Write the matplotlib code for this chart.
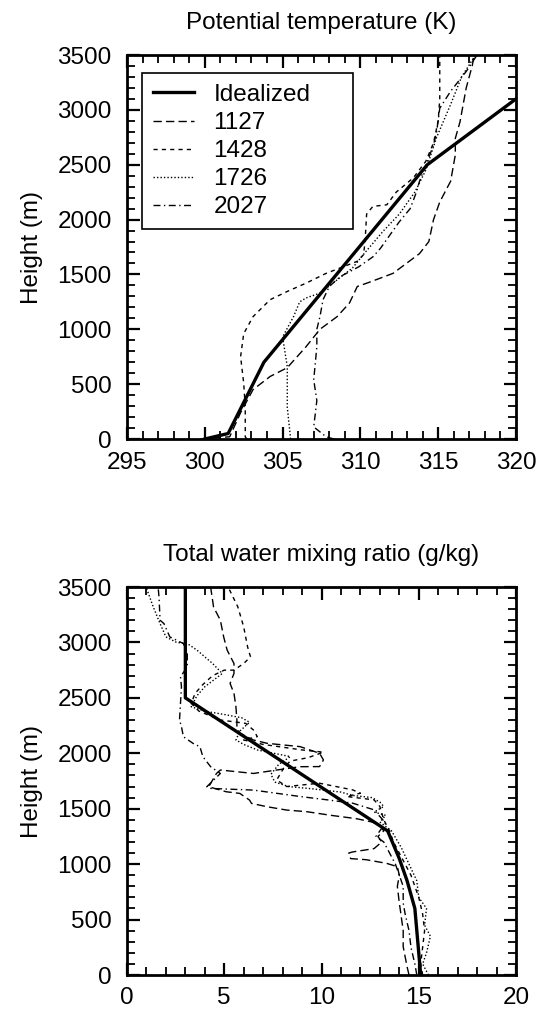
import numpy as np
import matplotlib.pyplot as plt
from matplotlib.ticker import MultipleLocator

plt.rcParams['font.family'] = ['Liberation Sans', 'DejaVu Sans']

# ---- potential temperature (K) vs height (m) ----
th_ideal = [300.0, 301.5, 303.8, 314.3, 320.0, 321.0]
z_ideal = [0, 50, 700, 2500, 3100, 3200]

th_1127 = [299.7, 301.6, 302.3, 303.1, 304.2, 305.3, 306.5, 307.4, 308.5, 309.3, 309.8, 310.6,
           312.1, 313.8, 314.4, 314.7, 315.1, 315.8, 316.1, 316.1, 316.4, 316.8, 317.2, 317.3]
z_1127 = [0, 20, 240, 450, 570, 650, 840, 1000, 1115, 1240, 1390, 1430,
          1510, 1690, 1800, 2000, 2160, 2350, 2590, 2740, 2890, 3200, 3410, 3500]

th_1428 = [302.7, 302.6, 302.6, 302.5, 302.3, 302.5, 303.1, 304.2, 305.3, 306.5, 307.8, 308.9,
           309.8, 310.2, 310.3, 310.4, 310.8, 311.7, 312.3, 313.4, 314.2, 314.7, 315.0, 315.1, 315.1]
z_1428 = [0, 20, 290, 510, 750, 960, 1115, 1270, 1345, 1420, 1510, 1570,
          1620, 1680, 1800, 2050, 2120, 2135, 2250, 2380, 2530, 2700, 2900, 3100, 3500]

th_1726 = [305.5, 305.5, 305.3, 305.3, 305.0, 305.7, 306.1, 306.5, 307.4, 308.5, 309.5, 310.3,
           311.5, 312.5, 313.5, 314.2, 314.9, 315.8, 316.5, 317.4]
z_1726 = [0, 20, 290, 660, 930, 1115, 1250, 1285, 1330, 1450, 1560, 1700,
          1900, 2050, 2250, 2450, 2750, 3050, 3300, 3500]

th_2027 = [308.3, 307.8, 307.0, 307.2, 307.0, 307.2, 307.2, 307.4, 307.6, 308.0, 308.7, 309.9,
           310.8, 311.3, 311.9, 312.5, 313.2, 313.6, 313.8, 314.3, 314.7, 314.9, 315.1, 315.8,
           316.8, 317.5]
z_2027 = [0, 20, 110, 350, 540, 840, 1000, 1115, 1270, 1390, 1480, 1570,
          1660, 1740, 1860, 1980, 2100, 2250, 2350, 2530, 2680, 2800, 3015, 3170,
          3350, 3500]

# ---- total water mixing ratio (g/kg) vs height (m) ----
q_ideal = [15.1, 15.0, 14.8, 14.4, 14.0, 13.4, 3.0, 3.0]
zq_ideal = [0, 200, 600, 850, 1050, 1300, 2500, 3500]

q_1127 = [14.5, 14.4, 14.2, 14.2, 14.05, 14.0, 13.9, 14.0, 13.9, 13.35, 12.3, 11.5, 11.4, 11.6,
          12.7, 13.1, 12.9, 13.2, 13.0, 12.6, 11.8, 10.5, 9.25, 8.2, 7.2, 6.4, 6.3, 5.8, 5.1,
          4.2, 4.4, 4.6, 4.8, 6.5, 7.7, 8.9, 9.9, 10.1, 9.9, 8.9, 7.2, 6.5, 5.8, 5.65, 5.65,
          5.6, 5.5, 5.3, 5.5, 5.5, 5.15, 4.97, 4.8, 4.45, 4.3]
zq_1127 = [0, 75, 255, 400, 590, 650, 800, 900, 977, 1007, 1040, 1050, 1100, 1110,
           1140, 1200, 1250, 1300, 1350, 1380, 1410, 1440, 1473, 1488, 1518, 1548, 1578, 1638, 1653,
           1698, 1758, 1818, 1849, 1818, 1849, 1879, 1880, 1940, 2000, 2060, 2090, 2120, 2180, 2240, 2300,
           2420, 2540, 2630, 2720, 2810, 2930, 3050, 3200, 3320, 3500]

q_1428 = [15.2, 15.1, 15.2, 15.3, 15.2, 15.0, 14.8, 14.6, 14.3, 14.0, 13.7, 13.5, 13.2, 13.0,
          12.7, 11.3, 12.0, 11.6, 9.9, 8.2, 7.7, 7.9, 8.1, 8.4, 9.3, 10.1, 9.0, 7.0, 6.0, 6.7,
          6.5, 6.1, 4.8, 3.7, 3.3, 3.5, 3.9, 4.4, 5.0, 5.5, 6.0, 6.35, 6.2, 6.0, 5.7, 5.2]
zq_1428 = [0, 100, 250, 400, 550, 700, 800, 900, 1000, 1100, 1200, 1300, 1400, 1520,
           1580, 1610, 1640, 1670, 1730, 1700, 1760, 1820, 1880, 1930, 1960, 2010, 2030, 2080, 2120, 2150,
           2210, 2270, 2300, 2380, 2450, 2540, 2620, 2700, 2750, 2750, 2810, 2870, 2960, 3140, 3320, 3500]

q_1726 = [15.5, 15.2, 15.4, 15.6, 15.3, 15.4, 15.0, 14.9, 14.5, 14.1, 13.6, 13.0, 13.3, 12.7,
          13.2, 13.0, 12.6, 11.6, 11.0, 9.5, 8.3, 7.6, 7.4, 7.8, 8.4, 6.7, 6.0, 5.6, 5.8, 6.3,
          5.9, 5.0, 4.0, 3.3, 3.6, 4.0, 4.6, 4.9, 4.4, 3.6, 3.1, 2.55, 2.0, 1.7, 1.35, 1.0]
zq_1726 = [0, 100, 200, 350, 450, 600, 700, 850, 1000, 1150, 1300, 1380, 1440, 1470,
           1520, 1560, 1600, 1620, 1650, 1680, 1700, 1740, 1810, 1900, 1970, 2030, 2080, 2120, 2200, 2280,
           2320, 2350, 2380, 2420, 2520, 2600, 2680, 2720, 2810, 2930, 2990, 3000, 3050, 3170, 3320, 3490]

q_2027 = [14.9, 14.8, 14.6, 14.5, 14.3, 14.2, 14.2, 14.0, 13.8, 13.5, 13.2, 12.8, 13.0, 13.3,
          12.7, 11.6, 10.3, 8.9, 6.5, 4.3, 4.1, 4.8, 4.3, 3.9, 3.75, 3.4, 2.9, 2.8, 2.7, 2.75,
          2.8, 2.75, 3.1, 3.1, 2.9, 2.2, 1.9, 1.7, 1.65, 1.6]
zq_2027 = [0, 100, 250, 400, 550, 650, 800, 900, 1000, 1100, 1200, 1250, 1300, 1370,
           1490, 1550, 1580, 1610, 1668, 1683, 1698, 1818, 1879, 1969, 2059, 2089, 2149, 2240, 2300, 2450,
           2600, 2690, 2780, 2900, 2990, 3050, 3170, 3200, 3400, 3500]

W, H = 538, 1015
fig = plt.figure(figsize=(W / 100, H / 100), dpi=100)
ax1 = fig.add_axes([127 / W, 1 - 439 / H, 389 / W, 384 / H])
ax2 = fig.add_axes([127 / W, 1 - 975 / H, 389 / W, 388 / H])

styles = {
    'ideal': dict(color='black', lw=2.4, ls='-'),
    '1127': dict(color='black', lw=1.0, ls=(0, (6, 3))),
    '1428': dict(color='black', lw=1.0, ls=(0, (3, 3))),
    '1726': dict(color='black', lw=1.0, ls=(0, (1, 1.5))),
    '2027': dict(color='black', lw=1.0, ls=(0, (5, 2.5, 1, 2.5))),
}

ax1.plot(th_ideal, z_ideal, label='Idealized', **styles['ideal'])
ax1.plot(th_1127, z_1127, label='1127', **styles['1127'])
ax1.plot(th_1428, z_1428, label='1428', **styles['1428'])
ax1.plot(th_1726, z_1726, label='1726', **styles['1726'])
ax1.plot(th_2027, z_2027, label='2027', **styles['2027'])

ax2.plot(q_ideal, zq_ideal, **styles['ideal'])
ax2.plot(q_1127, zq_1127, **styles['1127'])
ax2.plot(q_1428, zq_1428, **styles['1428'])
ax2.plot(q_1726, zq_1726, **styles['1726'])
ax2.plot(q_2027, zq_2027, **styles['2027'])

fs = 17.5
for ax, xlim, title in [(ax1, (295, 320), 'Potential temperature (K)'),
                        (ax2, (0, 20), 'Total water mixing ratio (g/kg)')]:
    ax.set_xlim(*xlim)
    ax.set_ylim(0, 3500)
    ax.xaxis.set_major_locator(MultipleLocator(5))
    ax.xaxis.set_minor_locator(MultipleLocator(1))
    ax.yaxis.set_major_locator(MultipleLocator(500))
    ax.yaxis.set_minor_locator(MultipleLocator(100))
    ax.tick_params(which='both', direction='in', top=True, right=True, labelsize=fs)
    ax.tick_params(axis='y', which='major', length=9, width=1.6, pad=11)
    ax.tick_params(axis='x', which='major', length=9, width=1.6, pad=9)
    ax.tick_params(which='minor', length=5.5, width=1.3)
    for s in ax.spines.values():
        s.set_linewidth(2)
    ax.set_title(title, fontsize=fs, pad=19)
    ax.set_ylabel('Height (m)', fontsize=fs, labelpad=10)

leg = ax1.legend(loc='upper left', bbox_to_anchor=(0.038, 0.0, 0.544, 0.953), mode='expand',
                 borderaxespad=0, fontsize=fs, handlelength=1.7, handletextpad=0.8,
                 labelspacing=0.25, borderpad=0.45, fancybox=False, framealpha=1)
leg.get_frame().set_edgecolor('black')
leg.get_frame().set_linewidth(1.2)

plt.savefig('out.png', dpi=100)
